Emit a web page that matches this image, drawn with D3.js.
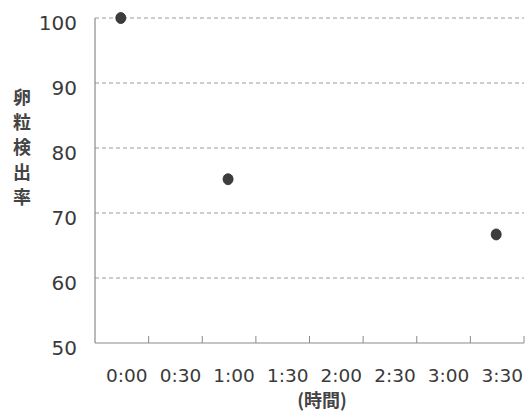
<!DOCTYPE html>
<html><head><meta charset="utf-8">
<script src="https://cdn.jsdelivr.net/npm/d3@7"></script>
<style>body{margin:0;background:#fff;} svg{display:block;}</style>
</head><body>
<svg id="c" width="530" height="418"></svg>
<script>
const categories = ["0:00","0:30","1:00","1:30","2:00","2:30","3:00","3:30"];
const pointTimes = ["0:00","1:00","3:30"];
const pointValues = [100, 75.2, 66.7];
const yTicks = [50,60,70,80,90,100];
const yTitle = "卵粒検出率";
const xTitle = "(時間)";

(function(){
const svg = d3.select("#c");
const font = "'Noto Sans CJK JP', 'Noto Sans', sans-serif";
const numFont = "'DejaVu Sans', sans-serif";
const mLeft = 95, mRight = 524, mTop = 18, mBottom = 343;
const x = d3.scaleBand().domain(categories).range([mLeft, mRight]);
const y = d3.scaleLinear().domain([50,100]).range([mBottom, mTop]);

// gridlines
svg.append("g").selectAll("line").data(yTicks.filter(d=>d>50)).join("line")
  .attr("x1", mLeft).attr("x2", mRight)
  .attr("y1", d=>y(d)).attr("y2", d=>y(d))
  .attr("stroke", "#9a9a9a").attr("stroke-width", 1).attr("stroke-dasharray", "4,3");

// axes lines
svg.append("line").attr("x1", mLeft).attr("x2", mLeft).attr("y1", mTop).attr("y2", mBottom)
  .attr("stroke", "#8a8a8a").attr("stroke-width", 1.2);
svg.append("line").attr("x1", mLeft).attr("x2", mRight).attr("y1", mBottom).attr("y2", mBottom)
  .attr("stroke", "#8a8a8a").attr("stroke-width", 1.2);

// x ticks at band boundaries
svg.append("g").selectAll("line").data(categories).join("line")
  .attr("x1", d=>x(d)+x.bandwidth()).attr("x2", d=>x(d)+x.bandwidth())
  .attr("y1", mBottom-7).attr("y2", mBottom)
  .attr("stroke", "#8a8a8a").attr("stroke-width", 1);

// y labels
svg.append("g").selectAll("text").data(yTicks).join("text")
  .attr("x", 77).attr("y", d=>y(d)+5).attr("dy", "0.35em")
  .attr("text-anchor", "end").attr("font-family", numFont).attr("font-size", 20)
  .attr("fill", "#3a3a3a").text(d=>d);

// x labels
svg.append("g").selectAll("text").data(categories).join("text")
  .attr("x", d=>x(d)+x.bandwidth()/2+5).attr("y", 376).attr("dy", "0.35em")
  .attr("text-anchor", "middle").attr("font-family", numFont).attr("font-size", 18.5)
  .attr("fill", "#3a3a3a").text(d=>d);

// titles
svg.append("text").attr("x", 322).attr("y", 401).attr("dy","0.35em")
  .attr("text-anchor","middle").attr("font-family", font).attr("font-size", 18)
  .attr("font-weight", "bold").attr("fill", "#444").text(xTitle);

svg.append("g").selectAll("text").data(Array.from(yTitle)).join("text")
  .attr("x", 22).attr("y", (d,i)=>98 + i*25).attr("dy","0.35em")
  .attr("text-anchor","middle").attr("font-family", font).attr("font-size", 18)
  .attr("font-weight", "bold").attr("fill", "#444").text(d=>d);

// points
svg.append("g").selectAll("ellipse").data(pointTimes.map((t,i)=>({t, v: pointValues[i]}))).join("ellipse")
  .attr("cx", d=>x(d.t)+x.bandwidth()/2-1).attr("cy", d=>y(d.v))
  .attr("rx", 5).attr("ry", 5.5)
  .attr("fill", "#3d3d3d").attr("stroke", "#2a2a2a").attr("stroke-width", 0.8);
})();
</script>
</body></html>
